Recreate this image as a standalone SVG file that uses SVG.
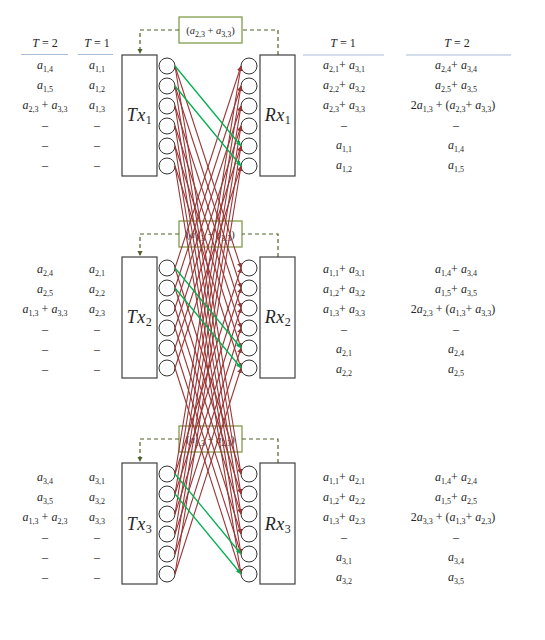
<svg xmlns="http://www.w3.org/2000/svg" width="545" height="640" viewBox="0 0 545 640">
<style>
text { font-family: "Liberation Serif", "DejaVu Serif", serif; fill: #262626; }
.t { font-size: 12px; text-anchor: middle; }
.i { font-style: italic; }
.s { font-size: 8px; font-style: normal; }
.lbl { font-size: 18px; text-anchor: middle; letter-spacing: 0.5px; }
.ls { font-size: 12px; font-style: normal; }
.box { fill: #fff; stroke: #404040; stroke-width: 1.2; }
.ant { fill: #fff; stroke: #333; stroke-width: 1; }
.fb { fill: none; stroke: #77933c; stroke-width: 1.2; }
.fbl { fill: none; stroke: #4f6228; stroke-width: 1.2; stroke-dasharray: 4 3; }
.fba { fill: none; stroke: #4f6228; stroke-width: 1.2; stroke-dasharray: 4 3; marker-end: url(#ao); }
.ul { stroke: #a9bcd8; stroke-width: 1.2; }
.r { stroke: #9a3535; stroke-width: 1.1; fill: none; marker-end: url(#ar); }
.g { stroke: #00b050; stroke-width: 1.3; fill: none; marker-end: url(#ag); }
.fbt { font-size: 10.5px; text-anchor: middle; }
</style>
<defs>
<marker id="ar" markerUnits="userSpaceOnUse" markerWidth="6" markerHeight="6" refX="5" refY="3" orient="auto"><path d="M0,0.5 L5,3 L0,5.5 z" fill="#9a3535"/></marker>
<marker id="ag" markerUnits="userSpaceOnUse" markerWidth="6" markerHeight="6" refX="5" refY="3" orient="auto"><path d="M0,0.5 L5,3 L0,5.5 z" fill="#00b050"/></marker>
<marker id="ao" markerUnits="userSpaceOnUse" markerWidth="6" markerHeight="6" refX="5" refY="3" orient="auto"><path d="M0,0.5 L5,3 L0,5.5 z" fill="#4f6228"/></marker>
</defs>
<rect width="545" height="640" fill="#fff"/>

<g id="headers">
<text class="t" x="45" y="47"><tspan class="i">T</tspan> = 2</text>
<text class="t" x="97" y="47"><tspan class="i">T</tspan> = 1</text>
<text class="t" x="343" y="47"><tspan class="i">T</tspan> = 1</text>
<text class="t" x="457" y="47"><tspan class="i">T</tspan> = 2</text>
<line class="ul" x1="21" y1="54.5" x2="68" y2="54.5"/>
<line class="ul" x1="78" y1="54.5" x2="113" y2="54.5"/>
<line class="ul" x1="303" y1="55" x2="384" y2="55"/>
<line class="ul" x1="406" y1="55" x2="511" y2="55"/>
</g>

<g id="feedback1">
<rect class="fb" x="179" y="17" width="63" height="26"/>
<path class="fbl" d="M278,55 V30 H242"/>
<path class="fba" d="M179,30 H140 V54"/>
<text class="fbt" x="210.5" y="34">(<tspan class="i">a</tspan><tspan class="s" dy="2.5">2,3</tspan><tspan dy="-2.5"> + </tspan><tspan class="i">a</tspan><tspan class="s" dy="2.5">3,3</tspan><tspan dy="-2.5">)</tspan></text>
</g>
<g id="feedback2">
<rect class="fb" x="179" y="221" width="63" height="26"/>
<path class="fbl" d="M278,257 V234 H242"/>
<path class="fba" d="M179,234 H140 V256"/>
<text class="fbt" x="210.5" y="238">(<tspan class="i">a</tspan><tspan class="s" dy="2.5">1,3</tspan><tspan dy="-2.5"> + </tspan><tspan class="i">a</tspan><tspan class="s" dy="2.5">3,3</tspan><tspan dy="-2.5">)</tspan></text>
</g>
<g id="feedback3">
<rect class="fb" x="179" y="426" width="63" height="26"/>
<path class="fbl" d="M278,463 V439 H242"/>
<path class="fba" d="M179,439 H140 V462"/>
<text class="fbt" x="210.5" y="443">(<tspan class="i">a</tspan><tspan class="s" dy="2.5">1,3</tspan><tspan dy="-2.5"> + </tspan><tspan class="i">a</tspan><tspan class="s" dy="2.5">2,3</tspan><tspan dy="-2.5">)</tspan></text>
</g>

<g id="Tx1">
<rect class="box" x="122" y="55" width="35" height="121"/>
<circle class="ant" cx="167" cy="66" r="8"/><circle class="ant" cx="167" cy="86" r="8"/><circle class="ant" cx="167" cy="106" r="8"/><circle class="ant" cx="167" cy="126" r="8"/><circle class="ant" cx="167" cy="146" r="8"/><circle class="ant" cx="167" cy="166" r="8"/>
<text class="lbl" x="139.5" y="121"><tspan class="i">Tx</tspan><tspan class="ls" dy="3">1</tspan></text>
</g>
<g id="Rx1">
<rect class="box" x="260" y="55" width="35" height="121"/>
<circle class="ant" cx="249" cy="66" r="8"/><circle class="ant" cx="249" cy="86" r="8"/><circle class="ant" cx="249" cy="106" r="8"/><circle class="ant" cx="249" cy="126" r="8"/><circle class="ant" cx="249" cy="146" r="8"/><circle class="ant" cx="249" cy="166" r="8"/>
<text class="lbl" x="278" y="121"><tspan class="i">Rx</tspan><tspan class="ls" dy="3">1</tspan></text>
</g>
<g id="Tx2">
<rect class="box" x="122" y="257" width="35" height="121"/>
<circle class="ant" cx="167" cy="268" r="8"/><circle class="ant" cx="167" cy="288" r="8"/><circle class="ant" cx="167" cy="308" r="8"/><circle class="ant" cx="167" cy="328" r="8"/><circle class="ant" cx="167" cy="348" r="8"/><circle class="ant" cx="167" cy="368" r="8"/>
<text class="lbl" x="139.5" y="323"><tspan class="i">Tx</tspan><tspan class="ls" dy="3">2</tspan></text>
</g>
<g id="Rx2">
<rect class="box" x="260" y="257" width="35" height="121"/>
<circle class="ant" cx="249" cy="268" r="8"/><circle class="ant" cx="249" cy="288" r="8"/><circle class="ant" cx="249" cy="308" r="8"/><circle class="ant" cx="249" cy="328" r="8"/><circle class="ant" cx="249" cy="348" r="8"/><circle class="ant" cx="249" cy="368" r="8"/>
<text class="lbl" x="278" y="323"><tspan class="i">Rx</tspan><tspan class="ls" dy="3">2</tspan></text>
</g>
<g id="Tx3">
<rect class="box" x="122" y="463" width="35" height="121"/>
<circle class="ant" cx="167" cy="474" r="8"/><circle class="ant" cx="167" cy="494" r="8"/><circle class="ant" cx="167" cy="514" r="8"/><circle class="ant" cx="167" cy="534" r="8"/><circle class="ant" cx="167" cy="554" r="8"/><circle class="ant" cx="167" cy="574" r="8"/>
<text class="lbl" x="139.5" y="530"><tspan class="i">Tx</tspan><tspan class="ls" dy="3">3</tspan></text>
</g>
<g id="Rx3">
<rect class="box" x="260" y="463" width="35" height="121"/>
<circle class="ant" cx="249" cy="474" r="8"/><circle class="ant" cx="249" cy="494" r="8"/><circle class="ant" cx="249" cy="514" r="8"/><circle class="ant" cx="249" cy="534" r="8"/><circle class="ant" cx="249" cy="554" r="8"/><circle class="ant" cx="249" cy="574" r="8"/>
<text class="lbl" x="278" y="530"><tspan class="i">Rx</tspan><tspan class="ls" dy="3">3</tspan></text>
</g>

<g id="connectors">
<line class="r" x1="175" y1="66" x2="241" y2="268"/><line class="r" x1="175" y1="66" x2="241" y2="474"/>
<line class="r" x1="175" y1="86" x2="241" y2="288"/><line class="r" x1="175" y1="86" x2="241" y2="494"/>
<line class="r" x1="175" y1="106" x2="241" y2="308"/><line class="r" x1="175" y1="106" x2="241" y2="514"/>
<line class="r" x1="175" y1="126" x2="241" y2="328"/><line class="r" x1="175" y1="126" x2="241" y2="534"/>
<line class="r" x1="175" y1="146" x2="241" y2="348"/><line class="r" x1="175" y1="146" x2="241" y2="554"/>
<line class="r" x1="175" y1="166" x2="241" y2="368"/><line class="r" x1="175" y1="166" x2="241" y2="574"/>
<line class="r" x1="175" y1="268" x2="241" y2="66"/><line class="r" x1="175" y1="268" x2="241" y2="474"/>
<line class="r" x1="175" y1="288" x2="241" y2="86"/><line class="r" x1="175" y1="288" x2="241" y2="494"/>
<line class="r" x1="175" y1="308" x2="241" y2="106"/><line class="r" x1="175" y1="308" x2="241" y2="514"/>
<line class="r" x1="175" y1="328" x2="241" y2="126"/><line class="r" x1="175" y1="328" x2="241" y2="534"/>
<line class="r" x1="175" y1="348" x2="241" y2="146"/><line class="r" x1="175" y1="348" x2="241" y2="554"/>
<line class="r" x1="175" y1="368" x2="241" y2="166"/><line class="r" x1="175" y1="368" x2="241" y2="574"/>
<line class="r" x1="175" y1="474" x2="241" y2="66"/><line class="r" x1="175" y1="474" x2="241" y2="268"/>
<line class="r" x1="175" y1="494" x2="241" y2="86"/><line class="r" x1="175" y1="494" x2="241" y2="288"/>
<line class="r" x1="175" y1="514" x2="241" y2="106"/><line class="r" x1="175" y1="514" x2="241" y2="308"/>
<line class="r" x1="175" y1="534" x2="241" y2="126"/><line class="r" x1="175" y1="534" x2="241" y2="328"/>
<line class="r" x1="175" y1="554" x2="241" y2="146"/><line class="r" x1="175" y1="554" x2="241" y2="348"/>
<line class="r" x1="175" y1="574" x2="241" y2="166"/><line class="r" x1="175" y1="574" x2="241" y2="368"/>
<line class="g" x1="175" y1="66" x2="241" y2="146"/><line class="g" x1="175" y1="86" x2="241" y2="166"/>
<line class="g" x1="175" y1="268" x2="241" y2="348"/><line class="g" x1="175" y1="288" x2="241" y2="368"/>
<line class="g" x1="175" y1="474" x2="241" y2="554"/><line class="g" x1="175" y1="494" x2="241" y2="574"/>
</g>

<g id="table1">
<text class="t" x="45" y="69"><tspan class="i">a</tspan><tspan class="s" dy="2.5">1,4</tspan></text>
<text class="t" x="45" y="89"><tspan class="i">a</tspan><tspan class="s" dy="2.5">1,5</tspan></text>
<text class="t" x="45" y="109"><tspan class="i">a</tspan><tspan class="s" dy="2.5">2,3</tspan><tspan dy="-2.5"> + </tspan><tspan class="i">a</tspan><tspan class="s" dy="2.5">3,3</tspan></text>
<text class="t" x="45" y="129">–</text><text class="t" x="45" y="149">–</text><text class="t" x="45" y="169">–</text>
<text class="t" x="97" y="69"><tspan class="i">a</tspan><tspan class="s" dy="2.5">1,1</tspan></text>
<text class="t" x="97" y="89"><tspan class="i">a</tspan><tspan class="s" dy="2.5">1,2</tspan></text>
<text class="t" x="97" y="109"><tspan class="i">a</tspan><tspan class="s" dy="2.5">1,3</tspan></text>
<text class="t" x="97" y="129">–</text><text class="t" x="97" y="149">–</text><text class="t" x="97" y="169">–</text>
<text class="t" x="344" y="69"><tspan class="i">a</tspan><tspan class="s" dy="2.5">2,1</tspan><tspan dy="-2.5">+ </tspan><tspan class="i">a</tspan><tspan class="s" dy="2.5">3,1</tspan></text>
<text class="t" x="344" y="89"><tspan class="i">a</tspan><tspan class="s" dy="2.5">2,2</tspan><tspan dy="-2.5">+ </tspan><tspan class="i">a</tspan><tspan class="s" dy="2.5">3,2</tspan></text>
<text class="t" x="344" y="109"><tspan class="i">a</tspan><tspan class="s" dy="2.5">2,3</tspan><tspan dy="-2.5">+ </tspan><tspan class="i">a</tspan><tspan class="s" dy="2.5">3,3</tspan></text>
<text class="t" x="344" y="129">–</text>
<text class="t" x="344" y="149"><tspan class="i">a</tspan><tspan class="s" dy="2.5">1,1</tspan></text>
<text class="t" x="344" y="169"><tspan class="i">a</tspan><tspan class="s" dy="2.5">1,2</tspan></text>
<text class="t" x="456" y="69"><tspan class="i">a</tspan><tspan class="s" dy="2.5">2,4</tspan><tspan dy="-2.5">+ </tspan><tspan class="i">a</tspan><tspan class="s" dy="2.5">3,4</tspan></text>
<text class="t" x="456" y="89"><tspan class="i">a</tspan><tspan class="s" dy="2.5">2,5</tspan><tspan dy="-2.5">+ </tspan><tspan class="i">a</tspan><tspan class="s" dy="2.5">3,5</tspan></text>
<text class="t" x="453" y="109">2<tspan class="i">a</tspan><tspan class="s" dy="2.5">1,3</tspan><tspan dy="-2.5"> + (</tspan><tspan class="i">a</tspan><tspan class="s" dy="2.5">2,3</tspan><tspan dy="-2.5">+ </tspan><tspan class="i">a</tspan><tspan class="s" dy="2.5">3,3</tspan><tspan dy="-2.5">)</tspan></text>
<text class="t" x="456" y="129">–</text>
<text class="t" x="456" y="149"><tspan class="i">a</tspan><tspan class="s" dy="2.5">1,4</tspan></text>
<text class="t" x="456" y="169"><tspan class="i">a</tspan><tspan class="s" dy="2.5">1,5</tspan></text>
</g>

<g id="table2">
<text class="t" x="45" y="273"><tspan class="i">a</tspan><tspan class="s" dy="2.5">2,4</tspan></text>
<text class="t" x="45" y="293"><tspan class="i">a</tspan><tspan class="s" dy="2.5">2,5</tspan></text>
<text class="t" x="45" y="313"><tspan class="i">a</tspan><tspan class="s" dy="2.5">1,3</tspan><tspan dy="-2.5"> + </tspan><tspan class="i">a</tspan><tspan class="s" dy="2.5">3,3</tspan></text>
<text class="t" x="45" y="333">–</text><text class="t" x="45" y="353">–</text><text class="t" x="45" y="373">–</text>
<text class="t" x="97" y="273"><tspan class="i">a</tspan><tspan class="s" dy="2.5">2,1</tspan></text>
<text class="t" x="97" y="293"><tspan class="i">a</tspan><tspan class="s" dy="2.5">2,2</tspan></text>
<text class="t" x="97" y="313"><tspan class="i">a</tspan><tspan class="s" dy="2.5">2,3</tspan></text>
<text class="t" x="97" y="333">–</text><text class="t" x="97" y="353">–</text><text class="t" x="97" y="373">–</text>
<text class="t" x="344" y="273"><tspan class="i">a</tspan><tspan class="s" dy="2.5">1,1</tspan><tspan dy="-2.5">+ </tspan><tspan class="i">a</tspan><tspan class="s" dy="2.5">3,1</tspan></text>
<text class="t" x="344" y="293"><tspan class="i">a</tspan><tspan class="s" dy="2.5">1,2</tspan><tspan dy="-2.5">+ </tspan><tspan class="i">a</tspan><tspan class="s" dy="2.5">3,2</tspan></text>
<text class="t" x="344" y="313"><tspan class="i">a</tspan><tspan class="s" dy="2.5">1,3</tspan><tspan dy="-2.5">+ </tspan><tspan class="i">a</tspan><tspan class="s" dy="2.5">3,3</tspan></text>
<text class="t" x="344" y="333">–</text>
<text class="t" x="344" y="353"><tspan class="i">a</tspan><tspan class="s" dy="2.5">2,1</tspan></text>
<text class="t" x="344" y="373"><tspan class="i">a</tspan><tspan class="s" dy="2.5">2,2</tspan></text>
<text class="t" x="456" y="273"><tspan class="i">a</tspan><tspan class="s" dy="2.5">1,4</tspan><tspan dy="-2.5">+ </tspan><tspan class="i">a</tspan><tspan class="s" dy="2.5">3,4</tspan></text>
<text class="t" x="456" y="293"><tspan class="i">a</tspan><tspan class="s" dy="2.5">1,5</tspan><tspan dy="-2.5">+ </tspan><tspan class="i">a</tspan><tspan class="s" dy="2.5">3,5</tspan></text>
<text class="t" x="453" y="313">2<tspan class="i">a</tspan><tspan class="s" dy="2.5">2,3</tspan><tspan dy="-2.5"> + (</tspan><tspan class="i">a</tspan><tspan class="s" dy="2.5">1,3</tspan><tspan dy="-2.5">+ </tspan><tspan class="i">a</tspan><tspan class="s" dy="2.5">3,3</tspan><tspan dy="-2.5">)</tspan></text>
<text class="t" x="456" y="333">–</text>
<text class="t" x="456" y="353"><tspan class="i">a</tspan><tspan class="s" dy="2.5">2,4</tspan></text>
<text class="t" x="456" y="373"><tspan class="i">a</tspan><tspan class="s" dy="2.5">2,5</tspan></text>
</g>

<g id="table3">
<text class="t" x="45" y="481"><tspan class="i">a</tspan><tspan class="s" dy="2.5">3,4</tspan></text>
<text class="t" x="45" y="501"><tspan class="i">a</tspan><tspan class="s" dy="2.5">3,5</tspan></text>
<text class="t" x="45" y="521"><tspan class="i">a</tspan><tspan class="s" dy="2.5">1,3</tspan><tspan dy="-2.5"> + </tspan><tspan class="i">a</tspan><tspan class="s" dy="2.5">2,3</tspan></text>
<text class="t" x="45" y="541">–</text><text class="t" x="45" y="561">–</text><text class="t" x="45" y="581">–</text>
<text class="t" x="97" y="481"><tspan class="i">a</tspan><tspan class="s" dy="2.5">3,1</tspan></text>
<text class="t" x="97" y="501"><tspan class="i">a</tspan><tspan class="s" dy="2.5">3,2</tspan></text>
<text class="t" x="97" y="521"><tspan class="i">a</tspan><tspan class="s" dy="2.5">3,3</tspan></text>
<text class="t" x="97" y="541">–</text><text class="t" x="97" y="561">–</text><text class="t" x="97" y="581">–</text>
<text class="t" x="344" y="481"><tspan class="i">a</tspan><tspan class="s" dy="2.5">1,1</tspan><tspan dy="-2.5">+ </tspan><tspan class="i">a</tspan><tspan class="s" dy="2.5">2,1</tspan></text>
<text class="t" x="344" y="501"><tspan class="i">a</tspan><tspan class="s" dy="2.5">1,2</tspan><tspan dy="-2.5">+ </tspan><tspan class="i">a</tspan><tspan class="s" dy="2.5">2,2</tspan></text>
<text class="t" x="344" y="521"><tspan class="i">a</tspan><tspan class="s" dy="2.5">1,3</tspan><tspan dy="-2.5">+ </tspan><tspan class="i">a</tspan><tspan class="s" dy="2.5">2,3</tspan></text>
<text class="t" x="344" y="541">–</text>
<text class="t" x="344" y="561"><tspan class="i">a</tspan><tspan class="s" dy="2.5">3,1</tspan></text>
<text class="t" x="344" y="581"><tspan class="i">a</tspan><tspan class="s" dy="2.5">3,2</tspan></text>
<text class="t" x="456" y="481"><tspan class="i">a</tspan><tspan class="s" dy="2.5">1,4</tspan><tspan dy="-2.5">+ </tspan><tspan class="i">a</tspan><tspan class="s" dy="2.5">2,4</tspan></text>
<text class="t" x="456" y="501"><tspan class="i">a</tspan><tspan class="s" dy="2.5">1,5</tspan><tspan dy="-2.5">+ </tspan><tspan class="i">a</tspan><tspan class="s" dy="2.5">2,5</tspan></text>
<text class="t" x="453" y="521">2<tspan class="i">a</tspan><tspan class="s" dy="2.5">3,3</tspan><tspan dy="-2.5"> + (</tspan><tspan class="i">a</tspan><tspan class="s" dy="2.5">1,3</tspan><tspan dy="-2.5">+ </tspan><tspan class="i">a</tspan><tspan class="s" dy="2.5">2,3</tspan><tspan dy="-2.5">)</tspan></text>
<text class="t" x="456" y="541">–</text>
<text class="t" x="456" y="561"><tspan class="i">a</tspan><tspan class="s" dy="2.5">3,4</tspan></text>
<text class="t" x="456" y="581"><tspan class="i">a</tspan><tspan class="s" dy="2.5">3,5</tspan></text>
</g>
</svg>
